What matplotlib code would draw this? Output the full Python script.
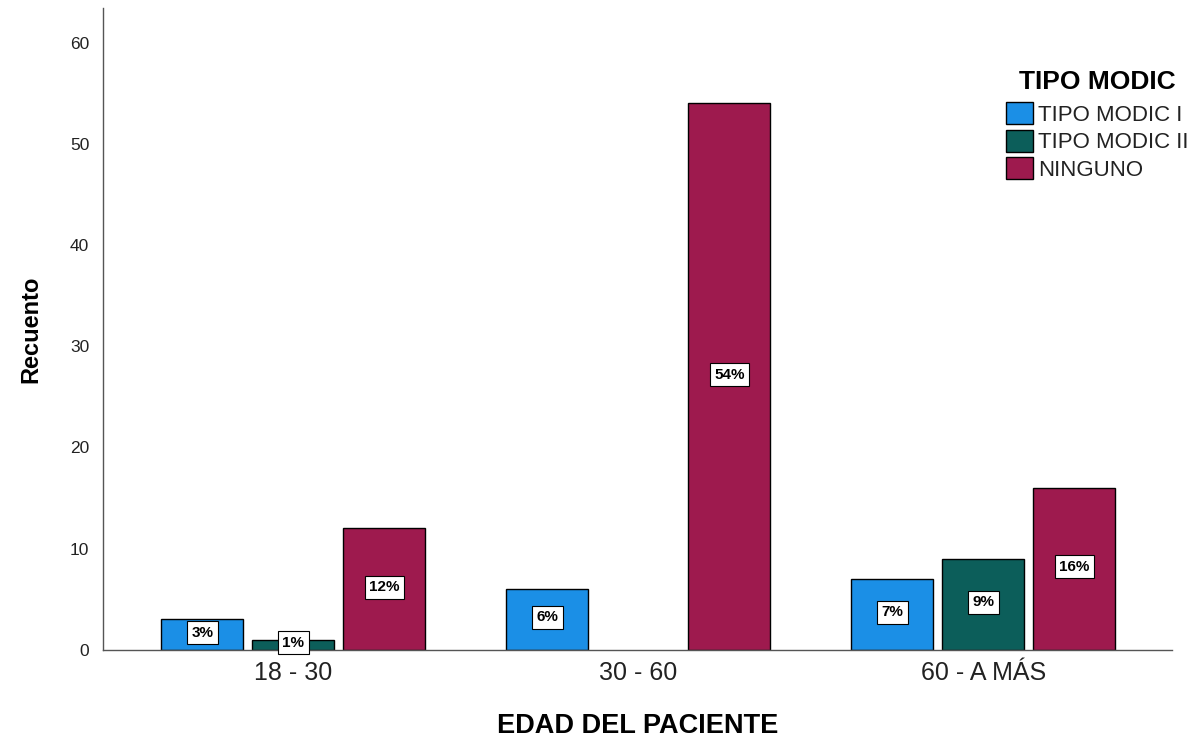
import matplotlib
matplotlib.use("Agg")
from matplotlib import pyplot as plt
import numpy as np

# data
groups = ["18 - 30", "30 - 60", "60 - A MÁS"]
series = ["TIPO MODIC I", "TIPO MODIC II", "NINGUNO"]
counts_modic1 = [3, 6, 7]
counts_modic2 = [1, 0, 9]
counts_ninguno = [12, 54, 16]
pct_modic1 = ["3%", "6%", "7%"]
pct_modic2 = ["1%", "", "9%"]
pct_ninguno = ["12%", "54%", "16%"]

colors = ["#1b8fe6", "#0c5e5a", "#9e1a4e"]

plt.rcParams['font.family'] = ['Liberation Sans', 'DejaVu Sans']

fig = plt.figure(figsize=(12, 7.41), dpi=100)
ax = fig.add_axes([0.086, 0.123, 0.891, 0.866])

x = np.arange(len(groups))
width = 0.238
step = 0.264
all_counts = [counts_modic1, counts_modic2, counts_ninguno]
all_pcts = [pct_modic1, pct_modic2, pct_ninguno]

# grouped bars with boxed percentage labels at mid height
for i, (vals, pcts) in enumerate(zip(all_counts, all_pcts)):
    pos = x + (i - 1) * step
    for p, v, t in zip(pos, vals, pcts):
        if v <= 0:
            continue
        ax.bar(p, v, width=width, color=colors[i], edgecolor="black",
               linewidth=1.0, zorder=2)
        ax.text(p, v / 2 + 0.2, t, ha="center", va="center", fontsize=11,
                fontweight="bold", zorder=3,
                bbox=dict(boxstyle="square,pad=0.3", facecolor="white",
                          edgecolor="black", linewidth=0.8))

ax.set_xlim(-0.551, 2.548)
ax.set_ylim(0, 63.4)
ax.set_yticks([0, 10, 20, 30, 40, 50, 60])
ax.set_xticks(x)
ax.set_xticklabels(groups, fontsize=18, color="#222222")
ax.tick_params(axis="both", length=0)
ax.tick_params(axis="y", labelsize=12.5, pad=10, labelcolor="#222222")
ax.tick_params(axis="x", pad=8)

for side in ["top", "right"]:
    ax.spines[side].set_visible(False)
for side in ["left", "bottom"]:
    ax.spines[side].set_color("#555555")
    ax.spines[side].set_linewidth(1.0)

ax.set_ylabel("Recuento", fontsize=17, fontweight="bold", labelpad=20)
ax.set_xlabel("EDAD DEL PACIENTE", fontsize=19.5, fontweight="bold", labelpad=20)

handles = [plt.Rectangle((0, 0), 1, 1, facecolor=c, edgecolor="black", linewidth=1.0)
           for c in colors]
leg = fig.legend(handles, series, loc="upper left", bbox_to_anchor=(0.838, 0.906),
                 frameon=False, fontsize=16, title="TIPO MODIC",
                 title_fontproperties={"size": 19, "weight": "bold"},
                 handlelength=1.25, handleheight=1.15, handletextpad=0.2,
                 labelspacing=0.18, borderaxespad=0, borderpad=0)
leg._legend_box.sep = 6
for t in leg.get_texts():
    t.set_color("#222222")

fig.savefig("out.png", dpi=100)
